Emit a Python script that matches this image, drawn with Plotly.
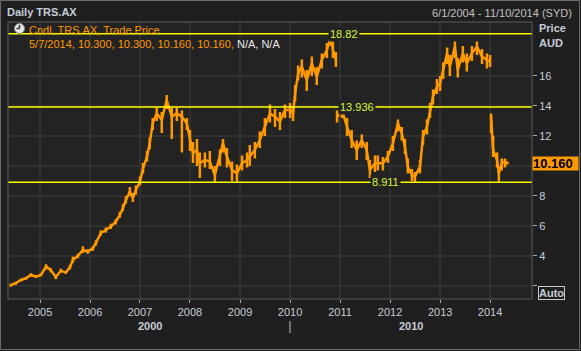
import plotly.graph_objects as go

# ---- data ----
dates = [
    "2004-06-01", "2004-07-08", "2004-08-14", "2004-09-20", "2004-10-26", "2004-12-02",
    "2005-01-08", "2005-02-14", "2005-03-20", "2005-04-26", "2005-06-02", "2005-07-08",
    "2005-08-07", "2005-08-29", "2005-10-04", "2005-11-10", "2005-12-16",
    "2006-01-22", "2006-02-14", "2006-03-20", "2006-04-26", "2006-06-02", "2006-07-08",
    "2006-08-07", "2006-08-29", "2006-09-20", "2006-10-19", "2006-11-10", "2006-12-02",
    "2007-01-01", "2007-01-23", "2007-02-21", "2007-03-13", "2007-04-04", "2007-05-03",
    "2007-06-09", "2007-07-15", "2007-08-21", "2007-09-27", "2007-11-03", "2007-12-09",
    "2008-01-01", "2008-01-23", "2008-02-21", "2008-03-13", "2008-04-19", "2008-05-25",
    "2008-07-01", "2008-08-07", "2008-08-29", "2008-09-27", "2008-11-03", "2008-12-09",
    "2009-01-15", "2009-02-21", "2009-03-13", "2009-04-19", "2009-05-25", "2009-07-01",
    "2009-08-07", "2009-09-13", "2009-10-19", "2009-11-25",
    "2010-01-01", "2010-01-23", "2010-02-07", "2010-03-01", "2010-03-28", "2010-05-03",
    "2010-06-09", "2010-07-15", "2010-08-21", "2010-09-27", "2010-10-26", "2010-11-10",
    "2010-12-02", "2010-12-06",
    "2010-12-10", "2011-01-15", "2011-02-21", "2011-03-27", "2011-05-03", "2011-06-09",
    "2011-07-15", "2011-08-07", "2011-09-13", "2011-10-04", "2011-11-10", "2011-12-16",
    "2012-01-22", "2012-02-28", "2012-03-27", "2012-04-19", "2012-05-10", "2012-06-09",
    "2012-07-01", "2012-08-07", "2012-08-29", "2012-09-27", "2012-10-19", "2012-11-10",
    "2012-12-09",
    "2013-01-01", "2013-01-23", "2013-02-21", "2013-03-13", "2013-04-19", "2013-05-10",
    "2013-06-16", "2013-07-15", "2013-08-21", "2013-09-27", "2013-11-03", "2013-12-09",
    "2014-01-01", "2014-01-05",
    "2014-01-08", "2014-01-23", "2014-02-21", "2014-03-06", "2014-03-27", "2014-04-20",
    "2014-05-07",
]
closes = [
    2.05, 2.18, 2.40, 2.51, 2.73, 2.62,
    2.73, 3.29, 3.07, 2.58, 3.02, 2.89,
    3.24, 3.73, 4.00, 4.40, 4.29,
    4.51, 4.89, 5.51, 5.73, 5.96, 6.29,
    6.73, 7.18, 7.73, 8.29, 7.87, 8.40,
    8.96, 9.84, 10.62, 11.51, 12.84, 13.51,
    13.07, 14.40, 13.29, 13.51, 13.29, 12.84,
    11.73, 10.84, 11.07, 10.18, 10.40, 10.29,
    9.40, 10.62, 11.51, 10.62, 9.73, 9.51,
    10.18, 10.40, 10.62, 11.07, 11.73, 12.62,
    13.51, 13.29, 12.96, 13.73,
    13.73, 13.51, 14.84, 16.18, 16.62, 15.73,
    16.84, 15.96, 17.07, 17.73, 18.62, 17.73,
    17.07, None,
    13.29, 13.73, 12.62, 11.73, 11.07, 11.73,
    11.07, 9.73, 10.18, 10.18, 10.18, 10.62,
    11.51, 12.84, 12.18, 11.29, 9.96, 9.40,
    9.29, 9.96, 11.96, 12.62, 13.73, 14.62,
    15.29,
    15.51, 16.40, 17.51, 16.62, 17.96, 16.40,
    17.51, 16.84, 17.51, 17.96, 17.29, 17.07,
    16.96, None,
    13.30, 11.07, 10.40, 9.51, 10.18, 10.30,
    10.16,
]
highs = [
    2.15, 2.28, 2.48, 2.60, 2.85, 2.72,
    2.85, 3.45, 3.20, 2.75, 3.15, 3.00,
    3.40, 3.95, 4.15, 4.65, 4.45,
    4.65, 5.05, 5.70, 5.90, 6.15, 6.45,
    6.95, 7.45, 8.00, 8.60, 8.20, 8.70,
    9.30, 10.20, 11.00, 11.90, 13.20, 13.90,
    13.60, 14.73, 13.90, 13.90, 13.70, 13.20,
    12.40, 11.60, 11.80, 10.90, 10.90, 11.00,
    10.00, 11.10, 11.80, 11.20, 10.30, 10.10,
    10.70, 10.90, 11.40, 11.60, 12.30, 13.20,
    14.10, 13.80, 13.60, 14.10,
    14.20, 14.00, 15.40, 16.70, 17.10, 16.40,
    17.30, 16.60, 17.50, 18.20, 18.82, 18.30,
    17.60, None,
    13.70, 14.00, 13.20, 12.40, 11.70, 12.10,
    11.60, 10.40, 10.70, 10.70, 10.60, 11.00,
    12.00, 13.10, 12.60, 11.80, 10.50, 9.80,
    9.60, 10.40, 12.40, 13.10, 14.20, 15.10,
    15.80,
    16.00, 16.90, 17.90, 17.40, 18.30, 17.20,
    18.00, 17.50, 18.00, 18.30, 17.80, 17.50,
    17.40, None,
    13.50, 12.00, 10.90, 10.00, 10.50, 10.50,
    10.30,
]
lows = [
    1.95, 2.08, 2.30, 2.42, 2.62, 2.55,
    2.65, 3.10, 2.90, 2.45, 2.90, 2.80,
    3.10, 3.55, 3.85, 4.20, 4.15,
    4.35, 4.70, 5.35, 5.55, 5.80, 6.10,
    6.55, 7.00, 7.50, 8.00, 7.60, 8.10,
    8.70, 9.50, 10.30, 11.10, 12.40, 13.00,
    12.20, 13.80, 11.80, 13.00, 10.90, 12.40,
    11.00, 10.20, 10.00, 9.20, 9.90, 9.80,
    8.95, 10.00, 10.90, 9.90, 9.00, 8.95,
    9.70, 9.90, 10.00, 10.50, 11.20, 12.00,
    12.90, 12.60, 12.40, 13.20,
    13.20, 13.00, 14.30, 15.70, 15.90, 15.00,
    16.00, 15.40, 16.50, 17.20, 18.00, 17.20,
    16.60, None,
    12.90, 13.20, 12.00, 11.20, 10.40, 11.20,
    10.40, 9.20, 9.60, 9.70, 9.70, 10.20,
    11.00, 12.30, 11.70, 10.80, 9.50, 9.00,
    8.91, 9.50, 11.40, 12.10, 13.20, 14.10,
    14.80,
    15.00, 15.80, 16.80, 16.00, 17.20, 15.90,
    16.90, 16.30, 17.00, 17.40, 16.80, 16.50,
    16.60, None,
    12.20, 10.60, 9.90, 8.96, 9.70, 9.90,
    10.10,
]
levels = [18.82, 13.936, 8.911]
level_labels = ["18.82", "13.936", "8.911"]
level_label_dates = ["2010-10-03", "2010-12-14", "2011-08-10"]
last_price = 10.16
y_ticks = [2, 4, 6, 8, 10, 12, 14, 16]
y_tick_text = ["", "4", "6", "8", "", "12", "14", "16"]
decade_labels = ["2000", "2010"]
decade_dates = ["2007-03-15", "2012-06-01"]

# ---- geometry helpers (pixel -> paper) ----
W, H = 581, 351
L, R, T, B = 8, 532, 22, 299


def px(x):
    return (x - L) / (R - L)


def py(y):
    return (B - y) / (B - T)


ORANGE = "#ff9900"
LBL = "#c5cdd8"
FONT = "Liberation Sans, Arial, sans-serif"

# high-low segments
seg_x, seg_y = [], []
for d, h, lo in zip(dates, highs, lows):
    if h is None:
        continue
    seg_x += [d, d, None]
    seg_y += [lo, h, None]

fig = go.Figure()
fig.add_trace(go.Scatter(x=seg_x, y=seg_y, mode="lines",
                         line=dict(color=ORANGE, width=2.5), hoverinfo="skip"))
fig.add_trace(go.Scatter(x=dates, y=closes, mode="lines", connectgaps=False,
                         line=dict(color=ORANGE, width=2.5), hoverinfo="skip"))

shapes = []
# level lines
for lv in levels:
    shapes.append(dict(type="line", xref="paper", yref="y", x0=0, x1=1, y0=lv, y1=lv,
                       line=dict(color="#ffff00", width=1.4), layer="above"))
# plot frame
shapes.append(dict(type="rect", xref="paper", yref="paper", x0=0, x1=1, y0=0, y1=1,
                   line=dict(color="#5c5c5c", width=1)))
# window border
shapes.append(dict(type="rect", xref="paper", yref="paper",
                   x0=px(0.5), x1=px(579.5), y0=py(349.5), y1=py(0.5),
                   line=dict(color="#6a6a6a", width=1)))
# decade separator
shapes.append(dict(type="line", xref="paper", yref="paper", x0=px(290), x1=px(290),
                   y0=py(321), y1=py(333), line=dict(color="#c0c0c0", width=1)))
# clock icon
shapes.append(dict(type="circle", xref="paper", yref="paper",
                   x0=px(14.5), x1=px(24.5), y0=py(33.5), y1=py(23.5),
                   fillcolor="#e6e6e6", line=dict(color="#8a8a8a", width=1), layer="above"))
shapes.append(dict(type="line", xref="paper", yref="paper", x0=px(19.5), x1=px(19.5),
                   y0=py(28.5), y1=py(25), line=dict(color="#303030", width=1.5), layer="above"))
shapes.append(dict(type="line", xref="paper", yref="paper", x0=px(19.5), x1=px(16.5),
                   y0=py(28.5), y1=py(28.5), line=dict(color="#303030", width=1.5), layer="above"))

ann = []
# level labels
for txt, d, lv in zip(level_labels, level_label_dates, levels):
    ann.append(dict(x=d, y=lv, xref="x", yref="y", text=txt, showarrow=False,
                    xanchor="left", yanchor="middle", bgcolor="#232323", borderpad=1,
                    font=dict(family=FONT, size=11, color="#d8f53c")))
# decade labels
for txt, d in zip(decade_labels, decade_dates):
    ann.append(dict(x=d, y=py(326), xref="x", yref="paper", text="<b>" + txt + "</b>",
                    showarrow=False, xanchor="center", yanchor="middle",
                    font=dict(family=FONT, size=11, color=LBL)))
# title / date range
ann.append(dict(x=px(5), y=py(12), xref="paper", yref="paper", text="<b>Daily TRS.AX</b>",
                showarrow=False, xanchor="left", yanchor="middle",
                font=dict(family=FONT, size=11, color=LBL)))
ann.append(dict(x=px(574), y=py(13), xref="paper", yref="paper",
                text="6/1/2004 - 11/10/2014 (SYD)", showarrow=False,
                xanchor="right", yanchor="middle",
                font=dict(family=FONT, size=11, color="#c0c0c0")))
# legend text
ann.append(dict(x=px(27), y=py(30), xref="paper", yref="paper",
                text="Cndl, TRS.AX, Trade Price", showarrow=False,
                xanchor="left", yanchor="middle",
                font=dict(family=FONT, size=11, color=ORANGE)))
ann.append(dict(x=px(27), y=py(44), xref="paper", yref="paper",
                text="5/7/2014, 10.300, 10.300, 10.160, 10.160, "
                     "<span style='color:#e8e8e8'>N/A, N/A</span>",
                showarrow=False, xanchor="left", yanchor="middle",
                font=dict(family=FONT, size=11, color=ORANGE)))
# axis title
ann.append(dict(x=px(537), y=py(28), xref="paper", yref="paper", text="<b>Price</b>",
                showarrow=False, xanchor="left", yanchor="middle",
                font=dict(family=FONT, size=11, color=LBL)))
ann.append(dict(x=px(537), y=py(43), xref="paper", yref="paper", text="<b>AUD</b>",
                showarrow=False, xanchor="left", yanchor="middle",
                font=dict(family=FONT, size=11, color=LBL)))
# last price box
ann.append(dict(x=1, y=last_price, xref="paper", yref="y", text="<b>%.3f</b>" % last_price,
                showarrow=False, xanchor="left", yanchor="middle", bgcolor=ORANGE,
                borderpad=0, width=45, height=13, align="left",
                font=dict(family=FONT, size=13, color="#000000")))
# Auto button
ann.append(dict(x=px(538), y=py(293), xref="paper", yref="paper", text="<b>Auto</b>",
                showarrow=False, xanchor="left", yanchor="middle", bordercolor="#c8c8c8",
                borderwidth=1, borderpad=0,
                font=dict(family=FONT, size=11, color=LBL)))

fig.update_layout(
    width=W, height=H,
    margin=dict(l=L, r=W - R, t=T, b=H - B, pad=0),
    paper_bgcolor="#1f1f1f", plot_bgcolor="#232323",
    showlegend=False,
    shapes=shapes, annotations=ann,
    font=dict(family=FONT, size=11, color=LBL),
    xaxis=dict(type="date", range=["2004-05-12", "2014-11-03"],
               tick0="2005-01-01", dtick="M12", tickformat="%Y",
               showgrid=True, gridcolor="#313131", gridwidth=2,
               ticks="outside", ticklen=3, tickcolor="#aaaaaa",
               tickfont=dict(family=FONT, size=11, color=LBL),
               showline=False, zeroline=False, fixedrange=True),
    yaxis=dict(side="right", range=[1.13, 19.6], tickvals=y_ticks, ticktext=y_tick_text,
               showgrid=True, gridcolor="#313131", gridwidth=2,
               ticks="outside", ticklen=4, tickcolor="#aaaaaa",
               tickfont=dict(family=FONT, size=11, color=LBL),
               showline=False, zeroline=False, fixedrange=True),
)

fig.write_html("out.html")
